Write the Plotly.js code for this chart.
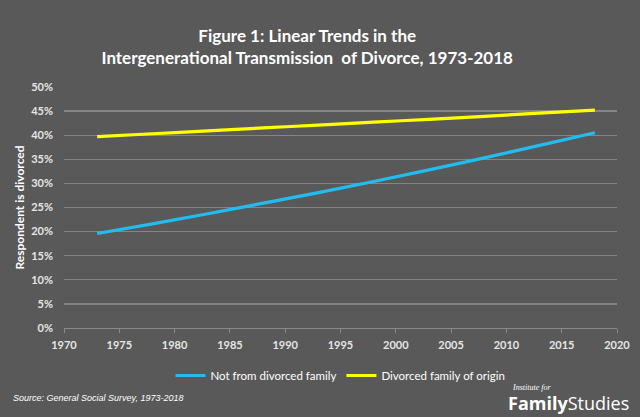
<!DOCTYPE html>
<html>
<head>
<meta charset="utf-8">
<script src="https://cdn.plot.ly/plotly-3.0.1.min.js"></script>
<style>html,body{margin:0;padding:0;background:#595959;}#chart{width:640px;height:417px;}</style>
</head>
<body>
<div id="chart"></div>
<script>
var years = [1973, 1978, 1983, 1988, 1993, 1998, 2003, 2008, 2013, 2018];
var notDivorced = [19.6, 21.6, 23.7, 25.9, 28.1, 30.4, 32.8, 35.3, 37.9, 40.5];
var divorcedOrigin = [39.7, 40.3, 40.9, 41.5, 42.1, 42.7, 43.3, 43.9, 44.6, 45.2];
var seriesNames = ["Not from divorced family", "Divorced family of origin"];
var xTicks = [1970, 1975, 1980, 1985, 1990, 1995, 2000, 2005, 2010, 2015, 2020];
var yTicks = [0, 5, 10, 15, 20, 25, 30, 35, 40, 45, 50];
var yTickLabels = yTicks.map(function (v) { return v + "%"; });

var FONT = "Lato, 'Open Sans', sans-serif";

var traces = [
  {x: years, y: notDivorced, name: seriesNames[0], type: "scatter", mode: "lines",
   line: {color: "#22bdf0", width: 3.2, shape: "spline"}},
  {x: years, y: divorcedOrigin, name: seriesNames[1], type: "scatter", mode: "lines",
   line: {color: "#ffff00", width: 3.2, shape: "spline"}}
];

var layout = {
  width: 640, height: 417,
  paper_bgcolor: "#595959", plot_bgcolor: "#595959",
  margin: {l: 64, r: 23, t: 87, b: 89},
  font: {family: FONT, color: "#ffffff"},
  title: {
    text: "<b>Figure 1: Linear Trends in the<br>Intergenerational Transmission  of Divorce, 1973-2018</b>",
    font: {family: FONT, size: 17, color: "#ffffff"},
    x: 0.48, xanchor: "center", y: 0.9, yanchor: "middle",
    yref: "container"
  },
  xaxis: {
    range: [1970, 2020], tickvals: xTicks, ticktext: xTicks.map(String),
    showgrid: false, zeroline: false,
    showline: true, linecolor: "#8a8a8a", linewidth: 1.2,
    ticks: "outside", ticklen: 4, tickcolor: "#8a8a8a", tickwidth: 1,
    ticklabelstandoff: 3,
    tickfont: {family: FONT, size: 11, color: "#e6e6e6", weight: "bold"}
  },
  yaxis: {
    range: [0, 50], tickvals: yTicks, ticktext: yTickLabels,
    showgrid: true, gridcolor: "#858585", gridwidth: 1.4,
    zeroline: false, showline: false, ticks: "",
    ticklabelstandoff: 10,
    tickfont: {family: FONT, size: 11, color: "#e6e6e6", weight: "bold"},
    title: {text: "<b>Respondent is divorced</b>", font: {family: FONT, size: 12, color: "#ffffff"}, standoff: 4}
  },
  showlegend: true,
  legend: {
    orientation: "h", x: 0.5, xanchor: "center", y: -0.197, yanchor: "middle",
    font: {family: FONT, size: 11.5, color: "#ffffff"},
    bgcolor: "rgba(0,0,0,0)", itemwidth: 30, traceorder: "normal"
  },
  annotations: [
    {text: "<i>Source: General Social Survey, 1973-2018</i>", xref: "paper", yref: "paper",
     x: -0.096, y: -0.29, xanchor: "left", yanchor: "middle", showarrow: false,
     font: {family: "'Liberation Sans', Arial, sans-serif", size: 9, color: "#ffffff"}},
    {text: "<i>Institute for</i>", xref: "paper", yref: "paper",
     x: 0.807, y: -0.245, xanchor: "left", yanchor: "middle", showarrow: false,
     font: {family: "'Liberation Serif', serif", size: 8, color: "#ffffff"}},
    {text: "<b>Family</b>Studies", xref: "paper", yref: "paper",
     x: 0.8, y: -0.31, xanchor: "left", yanchor: "middle", showarrow: false,
     font: {family: "'Open Sans', sans-serif", size: 18, color: "#ffffff"}}
  ]
};

Plotly.newPlot("chart", traces, layout, {displayModeBar: false, staticPlot: true});
</script>
</body>
</html>
